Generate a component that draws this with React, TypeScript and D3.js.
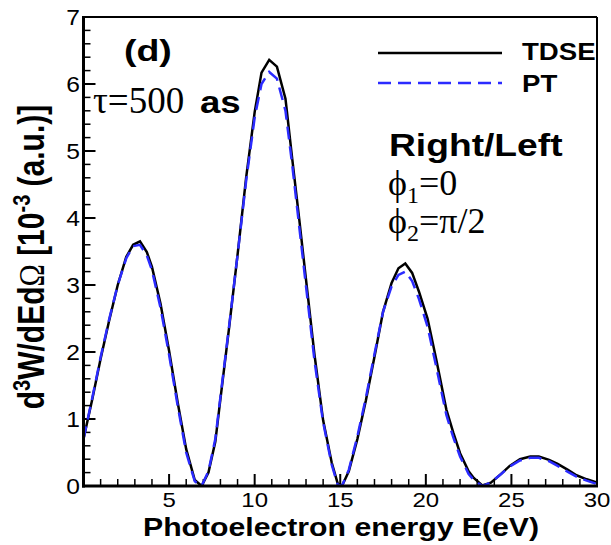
import React from "react";
import * as d3 from "d3";

const energy = [0.0,0.5,1.0,1.5,2.0,2.5,2.9,3.3,3.7,4.0,4.5,5.0,5.5,6.0,6.5,6.9,7.3,7.7,8.0,8.5,9.0,9.5,10.0,10.4,10.85,11.3,11.8,12.2,12.6,13.0,13.5,14.0,14.5,14.85,15.1,15.5,16.0,16.5,17.0,17.5,18.0,18.4,18.8,19.2,19.6,20.1,20.6,21.2,21.6,22.0,22.5,22.8,23.3,23.8,24.4,24.9,25.5,26.1,26.6,27.2,27.7,28.3,28.8,29.4,30.0];

const tdse = [0.70,1.28,1.90,2.47,3.00,3.42,3.60,3.65,3.49,3.27,2.72,2.02,1.25,0.55,0.09,0.00,0.20,0.66,1.30,2.35,3.45,4.60,5.58,6.17,6.36,6.26,5.78,4.87,3.99,3.08,1.95,0.98,0.35,0.04,0.00,0.22,0.70,1.28,1.93,2.60,3.03,3.25,3.32,3.18,2.90,2.50,1.90,1.14,0.80,0.49,0.22,0.12,0.01,0.05,0.18,0.30,0.40,0.44,0.44,0.39,0.33,0.24,0.16,0.10,0.05];

const pt = [0.70,1.30,1.92,2.49,3.00,3.40,3.58,3.60,3.44,3.22,2.66,1.96,1.20,0.50,0.07,0.00,0.22,0.70,1.33,2.37,3.45,4.55,5.50,6.00,6.18,6.08,5.60,4.78,3.88,2.98,1.86,0.95,0.32,0.02,0.00,0.24,0.74,1.32,1.97,2.60,2.98,3.15,3.20,3.06,2.79,2.38,1.79,1.06,0.73,0.44,0.18,0.09,0.00,0.05,0.18,0.29,0.38,0.42,0.42,0.37,0.30,0.21,0.14,0.08,0.03];

const xTickLabels = [5, 10, 15, 20, 25, 30];
const yTickLabels = [0, 1, 2, 3, 4, 5, 6, 7];
const seriesNames = ["TDSE", "PT"];

const W = 611, H = 545;
const L = 83.5, R = 597, T = 17, B = 486;

const sans = "'Liberation Sans', Arial, Helvetica, sans-serif";
const serif = "'Liberation Serif', 'Times New Roman', 'DejaVu Serif', serif";

function SText(props: { x: number; y: number; sx?: number; size: number; bold?: boolean; anchor?: string; family?: string; children: React.ReactNode }) {
  const { x, y, sx = 1.18, size, bold, anchor = "start", family = sans, children } = props;
  return (
    <text
      transform={`translate(${x},${y}) scale(${sx},1)`}
      textAnchor={anchor}
      fontFamily={family}
      fontWeight={bold ? "bold" : "normal"}
      fontSize={size}
    >
      {children}
    </text>
  );
}

export default function App() {
  const x = d3.scaleLinear().domain([0, 30]).range([L, R]);
  const y = d3.scaleLinear().domain([0, 7]).range([B, T]);
  const line = d3.line<number>().x((_, i) => x(energy[i])).y((d) => y(d)).curve(d3.curveLinear);

  const xMinor = d3.range(1, 30).filter((v) => v % 5 !== 0);
  const yMinor = d3.range(1, 35).map((v) => v * 0.2).filter((v) => Math.abs(v - Math.round(v)) > 1e-6);

  return (
    <svg width={W} height={H} style={{ position: "absolute", left: 0, top: 0, background: "#fff" }}>
      <defs>
        <clipPath id="plotclip">
          <rect x={L} y={T} width={R - L} height={B - T} />
        </clipPath>
      </defs>
      {/* ticks */}
      {xTickLabels.map((v) => (
        <line key={"xt" + v} x1={x(v)} x2={x(v)} y1={B} y2={B - 12} stroke="#000" strokeWidth={2} />
      ))}
      {xMinor.map((v) => (
        <line key={"xm" + v} x1={x(v)} x2={x(v)} y1={B} y2={B - 7} stroke="#000" strokeWidth={1.5} />
      ))}
      {yTickLabels.map((v) => (
        <line key={"yt" + v} x1={L} x2={L + 12} y1={y(v)} y2={y(v)} stroke="#000" strokeWidth={2} />
      ))}
      {yMinor.map((v) => (
        <line key={"ym" + v} x1={L} x2={L + 7} y1={y(v)} y2={y(v)} stroke="#000" strokeWidth={1.5} />
      ))}
      {/* curves */}
      <g clipPath="url(#plotclip)">
        <path d={line(tdse) || ""} fill="none" stroke="#000" strokeWidth={2.5} />
        <path d={line(pt) || ""} fill="none" stroke="#2b2bff" strokeWidth={2.5} strokeDasharray="13 7" />
      </g>
      {/* frame */}
      <line x1={L} x2={R} y1={T} y2={T} stroke="#000" strokeWidth={2} />
      <line x1={R} x2={R} y1={T} y2={B} stroke="#000" strokeWidth={2} />
      <line x1={L} x2={L} y1={T - 1} y2={B + 1.5} stroke="#000" strokeWidth={3} />
      <line x1={L - 1.5} x2={R + 1} y1={B} y2={B} stroke="#000" strokeWidth={3} />
      {/* tick labels */}
      {xTickLabels.map((v) => (
        <SText key={"xl" + v} x={x(v)} y={507} size={20} sx={1.2} anchor="middle">{v}</SText>
      ))}
      {yTickLabels.map((v) => (
        <SText key={"yl" + v} x={80} y={y(v) + 8} size={22} sx={1.12} anchor="end">{v}</SText>
      ))}
      {/* axis titles */}
      <SText x={341} y={536} size={26.5} sx={1.14} bold anchor="middle">Photoelectron energy E(eV)</SText>
      <text
        transform={`translate(44, 257) rotate(-90) scale(1, 1.2)`}
        textAnchor="middle"
        fontFamily={sans}
        fontWeight="bold"
        fontSize={30}
      >
        d<tspan fontSize={20} dy={-12}>3</tspan><tspan dy={12}>W/dEd</tspan><tspan fontFamily={serif} fontWeight="normal">Ω</tspan> [10<tspan fontSize={20} dy={-12}>-3</tspan><tspan dy={12}> (a.u.)]</tspan>
      </text>
      {/* legend */}
      <line x1={378} x2={502} y1={53} y2={53} stroke="#000" strokeWidth={2.5} />
      <line x1={378} x2={502} y1={83} y2={83} stroke="#2b2bff" strokeWidth={2.5} strokeDasharray="13 7" />
      <SText x={522} y={60} size={24} sx={1.15} bold>{seriesNames[0]}</SText>
      <SText x={522} y={92} size={24} sx={1.15} bold>{seriesNames[1]}</SText>
      {/* annotations */}
      <SText x={124} y={61} size={30} sx={1.25} bold>(d)</SText>
      <text x={93} y={113} fontFamily={serif} fontSize={37}>τ=500</text>
      <SText x={200} y={113} size={31} sx={1.18} bold>as</SText>
      <SText x={389} y={156} size={31} sx={1.2} bold>Right/Left</SText>
      <text x={388} y={195} fontFamily={serif} fontSize={36}>
        ϕ<tspan fontSize={24} dy={8}>1</tspan><tspan dy={-8}>=0</tspan>
      </text>
      <text x={388} y={233} fontFamily={serif} fontSize={36}>
        ϕ<tspan fontSize={24} dy={8}>2</tspan><tspan dy={-8}>=π/2</tspan>
      </text>
    </svg>
  );
}
